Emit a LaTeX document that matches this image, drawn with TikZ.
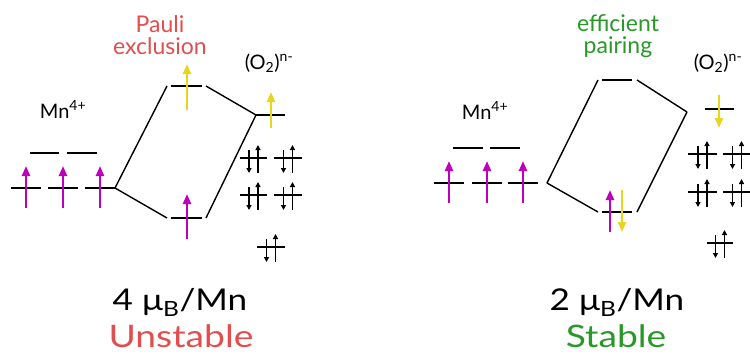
\documentclass[tikz,border=0pt]{standalone}
\usepackage{fontspec}
\setmainfont{Lato}
\usetikzlibrary{arrows.meta}
\definecolor{mag}{RGB}{190,0,190}
\definecolor{yel}{RGB}{232,214,30}
\definecolor{redt}{RGB}{226,78,78}
\definecolor{grn}{RGB}{40,152,40}
\newcommand{\pairlv}[3]{%
  \draw[lvl,line width=1.5pt] (#1,#3) -- (#2,#3);
  \draw[small] ({(#1+#2)/2+4.5},{#3+15}) -- ({(#1+#2)/2+4.5},{#3-13});
  \draw[small] ({(#1+#2)/2-4.5},{#3-8}) -- ({(#1+#2)/2-4.5},{#3+15});}
\begin{document}
\begin{tikzpicture}[x=1pt,y=-1pt,
  lvl/.style={line width=1.8pt},
  conn/.style={line width=1.4pt},
  spinup/.style={line width=2.4pt,-{Triangle[length=10pt,width=8pt]}},
  small/.style={line width=1.6pt,-{Triangle[length=5pt,width=5pt]}},
  lab/.style={inner sep=0pt,anchor=base},
  big/.style={lab,font=\fontsize{30}{32}\selectfont},
]
\useasboundingbox (0,0) rectangle (750,354);
% ---------- left panel ----------
\node[lab,redt,font=\fontsize{23}{25}\selectfont] (pauli) at (160,32) {Pauli};
\node[lab,redt,font=\fontsize{23}{25}\selectfont] (excl) at (160,54) {exclusion};
\node[lab,font=\fontsize{20}{22}\selectfont] (mnL) at (63,118) {Mn\textsuperscript{4+}};
\node[lab,font=\fontsize{20}{22}\selectfont] (o2L) at (269,69) {(O\textsubscript{2})\textsuperscript{n-}};
% Mn levels
\draw[lvl] (11,188) -- (41,188);
\draw[lvl] (48,188) -- (78,188);
\draw[lvl] (85,188) -- (115,188) coordinate (mnLt);
\draw[lvl] (30,153) -- (59,153);
\draw[lvl] (67,153) -- (97,153);
\draw[spinup,mag] (26,208) -- (26,166);
\draw[spinup,mag] (63,208) -- (63,166);
\draw[spinup,mag] (100,208) -- (100,166);
% MO levels
\draw[lvl] (171,86) -- (202,86);
\coordinate (aL) at (167,86); \coordinate (aR) at (206,86);
\draw[lvl] (171,218) -- (202,218);
\coordinate (bL) at (167,218); \coordinate (bR) at (206,218);
\draw[spinup,yel] (187,110) -- (187,64);
\draw[spinup,mag] (187,239) -- (187,194);
% O2 level
\draw[lvl] (256,115) coordinate (oL) -- (285,115);
\draw[spinup,yel] (271,128) -- (271,92);
\draw[conn] (mnLt) -- (aL);
\draw[conn] (mnLt) -- (bL);
\draw[conn] (aR) -- (oL);
\draw[conn] (bR) -- (oL);
\pairlv{240}{267}{158}
\pairlv{274}{302}{158}
\pairlv{240}{267}{195}
\pairlv{274}{302}{195}
\pairlv{257}{285}{247}
% bottom labels
\node[big] (momL) at (180,310) {\scalebox{1.17}[1]{4 μ\textsubscript{B}/Mn}};
\node[big,redt,font=\fontsize{31}{33}\selectfont] (unst) at (181,347) {\scalebox{1.2}[1]{Unstable}};
% ---------- right panel ----------
\node[lab,grn,font=\fontsize{23}{25}\selectfont] (eff) at (618,31) {efficient};
\node[lab,grn,font=\fontsize{23}{25}\selectfont] (pair) at (618,53) {pairing};
\node[lab,font=\fontsize{20}{22}\selectfont] (mnR) at (485,119) {Mn\textsuperscript{4+}};
\node[lab,font=\fontsize{20}{22}\selectfont] (o2R) at (718,69) {(O\textsubscript{2})\textsuperscript{n-}};
\draw[lvl] (434,183) -- (464,183);
\draw[lvl] (472,183) -- (502,183);
\draw[lvl] (508,183) -- (538,183);
\draw[lvl] (453,148) -- (483,148);
\draw[lvl] (490,148) -- (520,148);
\draw[spinup,mag] (449,203) -- (449,161);
\draw[spinup,mag] (487,203) -- (487,161);
\draw[spinup,mag] (523,203) -- (523,161);
\coordinate (mnRt) at (547,183);
\draw[lvl] (602,80) -- (632,80);
\coordinate (aL2) at (598,80); \coordinate (aR2) at (637,80);
\draw[lvl] (602,212) -- (632,212);
\coordinate (bL2) at (598,212); \coordinate (bR2) at (637,212);
\coordinate (oR) at (687,112);
\draw[spinup,mag] (610,232) -- (610,190);
\draw[spinup,yel] (622,190) -- (622,232);
\draw[lvl] (705,109) -- (734,109);
\draw[spinup,yel] (719,95) -- (719,128);
\draw[conn] (mnRt) -- (aL2);
\draw[conn] (mnRt) -- (bL2);
\draw[conn] (aR2) -- (oR);
\draw[conn] (bR2) -- (oR);
\pairlv{688}{717}{154}
\pairlv{723}{751}{154}
\pairlv{688}{717}{192}
\pairlv{723}{751}{192}
\pairlv{707}{733}{243}
\node[big] (momR) at (617,310) {\scalebox{1.17}[1]{2 μ\textsubscript{B}/Mn}};
\node[big,grn,font=\fontsize{31}{33}\selectfont] (stab) at (616,347) {\scalebox{1.2}[1]{Stable}};
\end{tikzpicture}
\end{document}
